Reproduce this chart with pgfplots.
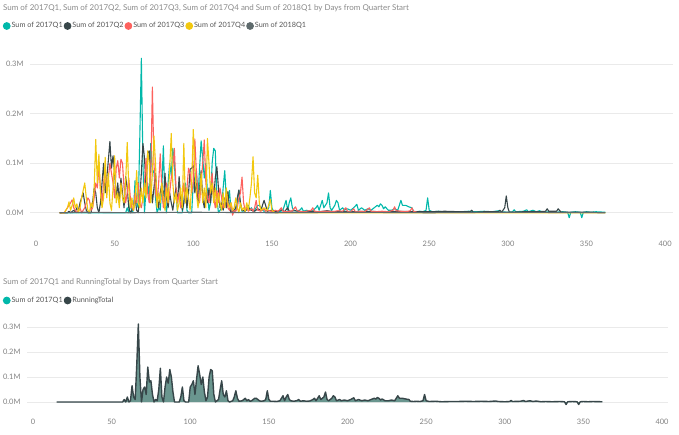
\documentclass[border=0pt]{standalone}
\usepackage{pgfplots}
\pgfplotsset{compat=1.18}
\usepackage{pgfplotstable}
\usepackage{fontspec}
\setmainfont{Lato}
\definecolor{pbteal}{HTML}{01B8AA}
\definecolor{pbdark}{HTML}{374649}
\definecolor{pbred}{HTML}{FD625E}
\definecolor{pbyellow}{HTML}{F2C80F}
\definecolor{pbgray}{HTML}{5F6B6D}
\definecolor{areafill}{RGB}{106,150,143}
\definecolor{titlegray}{HTML}{8A8A8A}
\definecolor{legtext}{HTML}{555555}
\definecolor{tickgray}{HTML}{808080}
\definecolor{gridgray}{HTML}{EAEAEA}

\pgfplotstableread[row sep=\\]{x y\\
15 0\\ 57 0\\ 58 0.01\\ 59 0\\ 60 0.02\\ 61 0\\ 62 0.005\\ 63 0.065\\ 64 0.02\\ 65 0.01\\ 66 0.15\\ 67 0.312\\ 68 0.1\\ 69 0\\ 70 0.05\\ 71 0.06\\ 72 0.03\\ 73 0.14\\ 74 0.08\\ 75 0.085\\ 76 0.03\\ 77 0\\ 78 0.01\\ 79 0.005\\ 80 0.05\\ 81 0.135\\ 82 0.02\\ 83 0\\ 84 0.06\\ 85 0.1\\ 86 0.075\\ 87 0.13\\ 88 0.1\\ 89 0.04\\ 90 0\\ 93 0\\ 94 0.02\\ 95 0.06\\ 96 0.005\\ 97 0\\ 99 0\\ 100 0.06\\ 101 0.07\\ 102 0.085\\ 103 0.03\\ 104 0.09\\ 105 0.145\\ 106 0.11\\ 107 0.07\\ 108 0.1\\ 109 0.04\\ 110 0.005\\ 111 0.02\\ 112 0.1\\ 113 0.13\\ 114 0.125\\ 115 0.03\\ 116 0\\ 118 0.01\\ 119 0.05\\ 120 0.085\\ 121 0.03\\ 122 0.02\\ 123 0.045\\ 124 0.005\\ 125 0\\ 127 0.005\\ 128 0.02\\ 129 0.045\\ 130 0.015\\ 131 0.003\\ 133 0.005\\ 134 0.01\\ 135 0.015\\ 136 0.005\\ 137 0.01\\ 138 0.003\\ 139 0.005\\ 140 0.01\\ 141 0.015\\ 142 0.015\\ 143 0.01\\ 144 0.005\\ 145 0.003\\ 147 0.005\\ 148 0.01\\ 149 0.045\\ 150 0.01\\ 151 0.003\\ 153 0.003\\ 155 0.002\\ 157 0.005\\ 158 0.015\\ 159 0.025\\ 160 0.005\\ 161 0.02\\ 162 0.03\\ 163 0.01\\ 164 0.005\\ 166 0.003\\ 168 0.006\\ 169 0.01\\ 170 0.003\\ 172 0.005\\ 174 0.003\\ 176 0.004\\ 178 0.01\\ 179 0.015\\ 180 0.005\\ 181 0.015\\ 182 0.025\\ 183 0.01\\ 185 0.02\\ 186 0.04\\ 187 0.01\\ 188 0.005\\ 189 0.01\\ 190 0.015\\ 191 0.025\\ 192 0.02\\ 193 0.005\\ 195 0.01\\ 196 0.005\\ 198 0.008\\ 200 0.005\\ 202 0.01\\ 204 0.017\\ 205 0.005\\ 207 0.01\\ 209 0.005\\ 211 0.008\\ 213 0.005\\ 215 0.01\\ 217 0.015\\ 218 0.012\\ 219 0.018\\ 220 0.015\\ 221 0.008\\ 222 0.012\\ 224 0.005\\ 226 0.005\\ 228 0.008\\ 230 0.005\\ 232 0.025\\ 233 0.015\\ 235 0.015\\ 237 0.012\\ 239 0.01\\ 240 0.003\\ 242 0.002\\ 244 0.003\\ 246 0.002\\ 248 0.005\\ 249 0.03\\ 250 0.005\\ 252 0.002\\ 256 0.003\\ 260 0.001\\ 265 0.002\\ 270 0.002\\ 275 0.003\\ 280 0.002\\ 285 0.003\\ 290 0.002\\ 294 0.004\\ 296 0.002\\ 300 0.001\\ 303 0.002\\ 304 0.006\\ 305 0.002\\ 310 0.003\\ 312 0.006\\ 313 0.002\\ 316 0.005\\ 318 0.002\\ 320 0.004\\ 323 0.001\\ 326 0.002\\ 330 0.001\\ 335 0.002\\ 338 0.001\\ 339 -0.01\\ 340 0.001\\ 343 0.002\\ 346 0.001\\ 347 -0.01\\ 348 0.001\\ 350 0.002\\ 353 0.001\\ 356 0.002\\ 362 0.001\\
}\tQone

\pgfplotstableread[row sep=\\]{x y\\
15 0\\ 20 0\\ 21 0.003\\ 22 0\\ 24 0.005\\ 25 0.002\\ 26 0.01\\ 27 0.005\\ 28 0.02\\ 29 0.03\\ 30 0.04\\ 31 0.02\\ 32 0.005\\ 33 0\\ 35 0\\ 36 0.02\\ 37 0.05\\ 38 0.04\\ 39 0.01\\ 40 0\\ 41 0.02\\ 42 0.06\\ 43 0.1\\ 44 0.04\\ 45 0.07\\ 46 0.105\\ 47 0.144\\ 48 0.09\\ 49 0.115\\ 50 0.08\\ 51 0.03\\ 52 0.06\\ 53 0.02\\ 54 0.07\\ 55 0.04\\ 56 0.01\\ 57 0.073\\ 58 0.05\\ 59 0.01\\ 60 0\\ 61 0.005\\ 62 0.01\\ 63 0.03\\ 64 0.005\\ 65 0\\ 66 0.03\\ 67 0.08\\ 68 0.14\\ 69 0.11\\ 70 0.05\\ 71 0.12\\ 72 0.125\\ 73 0.06\\ 74 0.02\\ 75 0.05\\ 76 0.08\\ 77 0.03\\ 78 0.01\\ 79 0.04\\ 80 0.06\\ 81 0.02\\ 82 0.08\\ 83 0.03\\ 84 0.01\\ 85 0.04\\ 86 0.02\\ 87 0.005\\ 88 0.03\\ 89 0.05\\ 90 0.02\\ 91 0.073\\ 92 0.03\\ 93 0.005\\ 94 0.02\\ 95 0.05\\ 96 0.01\\ 97 0.04\\ 98 0.088\\ 99 0.09\\ 100 0.095\\ 101 0.04\\ 102 0.06\\ 103 0.02\\ 104 0.05\\ 105 0.085\\ 106 0.03\\ 107 0.01\\ 108 0.04\\ 109 0.02\\ 110 0.05\\ 111 0.02\\ 112 0.06\\ 113 0.03\\ 114 0.07\\ 115 0.093\\ 116 0.05\\ 117 0.01\\ 118 0.02\\ 119 0.005\\ 120 0.03\\ 121 0.01\\ 122 0.043\\ 123 0.01\\ 124 0\\ 126 0.005\\ 127 0.01\\ 128 0.03\\ 129 0.046\\ 130 0.02\\ 131 0.005\\ 133 0.003\\ 135 0.01\\ 137 0.005\\ 139 0.003\\ 141 0.008\\ 143 0.005\\ 144 0.015\\ 145 0.025\\ 146 0.015\\ 147 0.003\\ 150 0.005\\ 153 0.002\\ 156 0.006\\ 158 0.002\\ 160 0.01\\ 161 0.003\\ 165 0.004\\ 170 0.002\\ 175 0.003\\ 180 0.002\\ 185 0.004\\ 190 0.002\\ 200 0.002\\ 210 0.003\\ 220 0.002\\ 230 0.003\\ 240 0.002\\ 250 0.002\\ 260 0.003\\ 270 0.002\\ 276 0.002\\ 277 0.005\\ 278 0.001\\ 285 0.002\\ 294 0.002\\ 295 0.005\\ 296 0.001\\ 298 0.01\\ 299 0.034\\ 300 0.01\\ 301 0.001\\ 310 0.002\\ 320 0.002\\ 324 0.003\\ 325 0.008\\ 326 0.003\\ 331 0.003\\ 332 0.008\\ 333 0.004\\ 334 0.001\\ 340 0.001\\ 350 0.001\\ 355 0.001\\
}\tQtwo

\pgfplotstableread[row sep=\\]{x y\\
15 0\\ 18 0\\ 19 0.005\\ 20 0.01\\ 21 0.015\\ 22 0.02\\ 23 0.026\\ 24 0.01\\ 25 0.005\\ 26 0\\ 27 0.005\\ 28 0.01\\ 29 0\\ 30 0.005\\ 31 0.01\\ 32 0.02\\ 33 0.03\\ 34 0.025\\ 35 0.005\\ 36 0.01\\ 37 0.03\\ 38 0.06\\ 39 0.05\\ 40 0.09\\ 41 0.05\\ 42 0.02\\ 43 0.06\\ 44 0.09\\ 45 0.04\\ 46 0.07\\ 47 0.1\\ 48 0.08\\ 49 0.06\\ 50 0.03\\ 51 0.09\\ 52 0.105\\ 53 0.07\\ 54 0.108\\ 55 0.1\\ 56 0.05\\ 57 0.02\\ 58 0.04\\ 59 0.07\\ 60 0.03\\ 61 0.01\\ 62 0.005\\ 63 0.04\\ 64 0.02\\ 65 0.06\\ 66 0.02\\ 67 0.01\\ 68 0.03\\ 69 0.06\\ 70 0.11\\ 71 0.04\\ 72 0.02\\ 73 0.08\\ 74 0.254\\ 75 0.1\\ 76 0.04\\ 77 0.02\\ 78 0.06\\ 79 0.119\\ 80 0.05\\ 81 0.01\\ 82 0.03\\ 83 0.06\\ 84 0.02\\ 85 0.04\\ 86 0.07\\ 87 0.09\\ 88 0.13\\ 89 0.05\\ 90 0.02\\ 91 0.04\\ 92 0.01\\ 93 0.03\\ 94 0.06\\ 95 0.02\\ 96 0.05\\ 97 0.09\\ 98 0.08\\ 99 0.04\\ 100 0.06\\ 101 0.149\\ 102 0.08\\ 103 0.04\\ 104 0.02\\ 105 0.06\\ 106 0.1\\ 107 0.147\\ 108 0.06\\ 109 0.03\\ 110 0.02\\ 111 0.05\\ 112 0.08\\ 113 0.03\\ 114 0.01\\ 115 0.045\\ 116 0.02\\ 117 0.05\\ 118 0.03\\ 119 0.01\\ 120 0.02\\ 121 0.04\\ 122 0.01\\ 123 0.005\\ 124 0.02\\ 125 -0.005\\ 126 0.005\\ 127 0.003\\ 128 0.01\\ 129 0.03\\ 130 0.04\\ 131 0.072\\ 132 0.02\\ 133 0.005\\ 134 0.01\\ 135 0.003\\ 137 0.008\\ 138 0.003\\ 139 0.01\\ 140 0.025\\ 141 0.005\\ 143 0.003\\ 145 0.008\\ 146 0.003\\ 148 0.005\\ 150 0.002\\ 152 0.005\\ 154 0.003\\ 156 0.01\\ 157 0.003\\ 160 0.002\\ 163 0.004\\ 165 0.012\\ 166 0.004\\ 169 0.002\\ 172 0.003\\ 175 0.005\\ 176 0.01\\ 177 0.003\\ 180 0.002\\ 184 0.003\\ 188 0.002\\ 192 0.004\\ 195 0.003\\ 197 0.01\\ 198 0.003\\ 200 0.002\\ 202 0.008\\ 203 0.002\\ 206 0.003\\ 209 0.002\\ 212 0.01\\ 213 0.003\\ 216 0.002\\ 220 0.003\\ 224 0.002\\ 227 0.005\\ 228 0.012\\ 229 0.004\\ 232 0.003\\ 235 0.002\\ 238 0.004\\ 239 0.01\\ 240 0.003\\ 242 0.001\\
}\tQthree

\pgfplotstableread[row sep=\\]{x y\\
15 0\\ 18 0\\ 19 0.005\\ 20 0.01\\ 21 0.022\\ 22 0.005\\ 23 0.015\\ 24 0.03\\ 25 0.01\\ 26 0.018\\ 27 0\\ 28 0.01\\ 29 0.03\\ 30 0.045\\ 31 0.06\\ 32 0.03\\ 33 0.005\\ 34 0\\ 35 0.02\\ 36 0.01\\ 37 0.05\\ 38 0.148\\ 39 0.06\\ 40 0.118\\ 41 0.04\\ 42 0.01\\ 43 0.03\\ 44 0.112\\ 45 0.03\\ 46 0.08\\ 47 0.02\\ 48 0.005\\ 49 0.05\\ 50 0.115\\ 51 0.02\\ 52 0.04\\ 53 0.01\\ 54 0.06\\ 55 0.03\\ 56 0.02\\ 57 0.06\\ 58 0.142\\ 59 0.05\\ 60 0.01\\ 61 0.03\\ 62 0.005\\ 63 0.02\\ 64 0.085\\ 65 0.02\\ 66 0.01\\ 67 0.05\\ 68 0.02\\ 69 0.06\\ 70 0.03\\ 71 0.125\\ 72 0.1\\ 73 0.02\\ 74 0.08\\ 75 0.155\\ 76 0.1\\ 77 0.01\\ 78 0.04\\ 79 0.02\\ 80 0.06\\ 81 0.03\\ 82 0.005\\ 83 0.05\\ 84 0.02\\ 85 0.09\\ 86 0.16\\ 87 0.06\\ 88 0.02\\ 89 0.04\\ 90 0.005\\ 91 0.02\\ 92 0.05\\ 93 0.01\\ 94 0.14\\ 95 0.02\\ 96 0.05\\ 97 0.03\\ 98 0.005\\ 99 0.06\\ 100 0.168\\ 101 0.09\\ 102 0.04\\ 103 0.01\\ 104 0.03\\ 105 0.08\\ 106 0.02\\ 107 0.05\\ 108 0.01\\ 109 0.15\\ 110 0.1\\ 111 0.04\\ 112 0.06\\ 113 0.02\\ 114 0.05\\ 115 0.01\\ 116 0.04\\ 117 0.02\\ 118 0.005\\ 119 0.04\\ 120 0.01\\ 121 0.05\\ 122 0.02\\ 123 0.01\\ 124 0.02\\ 125 0.005\\ 126 0.01\\ 127 0.03\\ 128 0.01\\ 129 0\\ 130 0.02\\ 131 0.005\\ 132 0.01\\ 133 0.003\\ 134 0.02\\ 135 0.005\\ 136 0.03\\ 137 0.06\\ 138 0.113\\ 139 0.04\\ 140 0.03\\ 141 0.076\\ 142 0.02\\ 143 0.005\\ 145 0.01\\ 147 0.005\\ 149 0.027\\ 150 0.005\\ 152 0\\ 362 0\\
}\tQfour

\pgfplotstableread[row sep=\\]{x y\\
15 0\\ 30 0.001\\ 60 0\\ 100 0.001\\ 150 0\\ 200 0.001\\ 250 0\\ 300 0.001\\ 362 0\\
}\tQfive

\begin{document}
\begin{tikzpicture}
\path[use as bounding box] (0bp,0bp) rectangle (679bp,-435bp);
\pgfplotsset{
  pbaxis/.style={
    scale only axis,
    axis line style={draw=none},
    major tick length=0pt,
    ymajorgrids,
    grid style={gridgray, line width=0.9bp},
    xtick={0,50,...,400},
    ytick={0,0.1,0.2,0.3},
    yticklabels={0.0M,0.1M,0.2M,0.3M},
    /pgf/number format/assume math mode=true,
    tick label style={font=\fontsize{7.5}{9}\selectfont, text=tickgray},
    yticklabel style={xshift=-3bp},
    legend columns=-1,
    legend image code/.code={\fill[##1] (0bp,0bp) circle (3.3bp);},
    legend style={draw=none, fill=none, font=\fontsize{7.3}{9}\selectfont, text=legtext,
      nodes={inner xsep=1bp, inner ysep=1bp},
      inner xsep=0pt, inner ysep=0pt},
    every axis plot/.append style={line width=1.1bp, line join=round},
  }
}
\node[anchor=base west, text=titlegray, font=\fontsize{8}{10}\selectfont, inner sep=0pt] at (3bp,-10bp) {Sum of 2017Q1, Sum of 2017Q2, Sum of 2017Q3, Sum of 2017Q4 and Sum of 2018Q1 by Days from Quarter Start};
\node[anchor=base west, text=titlegray, font=\fontsize{8}{10}\selectfont, inner sep=0pt] at (3bp,-284.5bp) {Sum of 2017Q1 and RunningTotal by Days from Quarter Start};

\begin{axis}[pbaxis,
  at={(30bp,-237.5bp)}, anchor=south west,
  width=643bp, height=188.2bp,
  xmin=-3.8, xmax=405, ymin=-0.05, ymax=0.33,
  legend style={at={(axis description cs:-0.0425,1.1238)}, anchor=west},
]
\addplot[pbteal] table {\tQone};
\addlegendentry{Sum of 2017Q1}
\addplot[pbdark] table {\tQtwo};
\addlegendentry{Sum of 2017Q2}
\addplot[pbred] table {\tQthree};
\addlegendentry{Sum of 2017Q3}
\addplot[pbyellow] table {\tQfour};
\addlegendentry{Sum of 2017Q4}
\addplot[pbgray] table {\tQfive};
\addlegendentry{Sum of 2018Q1}
\end{axis}

\begin{axis}[pbaxis,
  at={(27bp,-416bp)}, anchor=south west,
  width=641bp, height=96.5bp,
  xmin=-3.8, xmax=403.8, ymin=-0.056, ymax=0.33,
  legend style={at={(axis description cs:-0.0379,1.1969)}, anchor=west},
]
\addplot[draw=none, fill=areafill, forget plot] table {\tQone} \closedcycle;
\addplot[pbdark, line width=1.4bp, forget plot] table {\tQone};
\addlegendimage{pbteal}
\addlegendentry{Sum of 2017Q1}
\addlegendimage{pbdark}
\addlegendentry{RunningTotal}
\end{axis}
\end{tikzpicture}
\end{document}
